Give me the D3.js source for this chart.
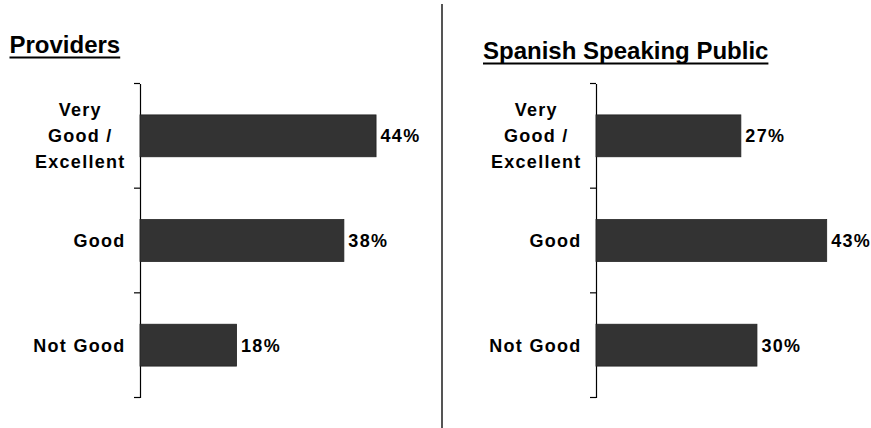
<!DOCTYPE html>
<html>
<head>
<meta charset="utf-8">
<script src="https://cdn.jsdelivr.net/npm/d3@7"></script>
<style>
  html, body { margin: 0; padding: 0; background: #fff; }
  svg { display: block; }
</style>
</head>
<body>
<svg id="chart" width="871" height="428"></svg>
<script>
const categories = ["Very\nGood /\nExcellent", "Good", "Not Good"];
const providerValues = [44, 38, 18];
const publicValues = [27, 43, 30];
const valueLabels = v => v + "%";
const titles = ["Providers", "Spanish Speaking Public"];

const svg = d3.select("#chart");
const font = "'Liberation Sans', Arial, Helvetica, sans-serif";

// divider
svg.append("line")
  .attr("x1", 442).attr("x2", 442)
  .attr("y1", 4).attr("y2", 428)
  .attr("stroke", "#555").attr("stroke-width", 2);

const panels = [
  { title: titles[0], values: providerValues, axisX: 140, titleX: 9.5, titleY: 53 },
  { title: titles[1], values: publicValues, axisX: 596, titleX: 483, titleY: 59 }
];

panels.forEach(p => {
  const g = svg.append("g");

  // title with underline
  const t = g.append("text")
    .attr("x", p.titleX).attr("y", p.titleY)
    .attr("font-family", font).attr("font-size", 24).attr("font-weight", "bold")
    .attr("fill", "#000")
    .text(p.title);
  const tw = t.node().getComputedTextLength();
  g.append("line")
    .attr("x1", p.titleX).attr("x2", p.titleX + tw)
    .attr("y1", p.titleY + 4.5).attr("y2", p.titleY + 4.5)
    .attr("stroke", "#000").attr("stroke-width", 2);

  const y = d3.scaleBand().domain(categories).range([83.5, 397.5]).padding(0);
  const x = d3.scaleLinear().domain([0, 50]).range([p.axisX, p.axisX + 268.25]);

  // axis
  const axis = d3.axisLeft(y).tickSize(0).tickFormat("");
  const ag = g.append("g").attr("transform", `translate(${p.axisX},0)`).call(axis);
  ag.select(".domain").attr("stroke", "#000").attr("stroke-width", 1.2);
  // ticks at band boundaries
  const edges = categories.map(c => y(c)).concat([y.range()[1]]);
  ag.selectAll("line.edge").data(edges).enter().append("line")
    .attr("class", "edge")
    .attr("x1", -6).attr("x2", 0)
    .attr("y1", d => d).attr("y2", d => d)
    .attr("stroke", "#000").attr("stroke-width", 1.2);

  const bw = y.bandwidth();
  // bars
  g.selectAll("rect.bar").data(p.values).enter().append("rect")
    .attr("class", "bar")
    .attr("x", x(0))
    .attr("y", (d, i) => y(categories[i]) + bw * 0.3)
    .attr("width", d => x(d) - x(0))
    .attr("height", bw * 0.4)
    .attr("fill", "#333333")
    .attr("stroke", "#222")
    .attr("stroke-width", 0.8);

  // value labels
  g.selectAll("text.val").data(p.values).enter().append("text")
    .attr("class", "val")
    .attr("x", d => x(d) + 4.5)
    .attr("y", (d, i) => y(categories[i]) + bw / 2 + 6.5)
    .attr("font-family", font).attr("font-size", 18).attr("font-weight", "bold")
    .attr("letter-spacing", "1.3px")
    .attr("fill", "#000")
    .text(valueLabels);

  // category labels
  categories.forEach(c => {
    const lines = c.split("\n");
    const cy = y(c) + bw / 2;
    const tg = g.append("g");
    const texts = lines.map((ln, i) => tg.append("text")
      .attr("y", cy + (i - (lines.length - 1) / 2) * 26 + 6.5)
      .attr("font-family", font).attr("font-size", 18).attr("font-weight", "bold")
      .attr("letter-spacing", "1.3px")
      .attr("text-anchor", "middle")
      .attr("fill", "#000")
      .text(ln));
    const widths = texts.map(tx => tx.node().getComputedTextLength());
    const maxW = d3.max(widths);
    const right = p.axisX - 15;
    texts.forEach(tx => tx.attr("x", right - maxW / 2 + 0.65));
  });
});
</script>
</body>
</html>
